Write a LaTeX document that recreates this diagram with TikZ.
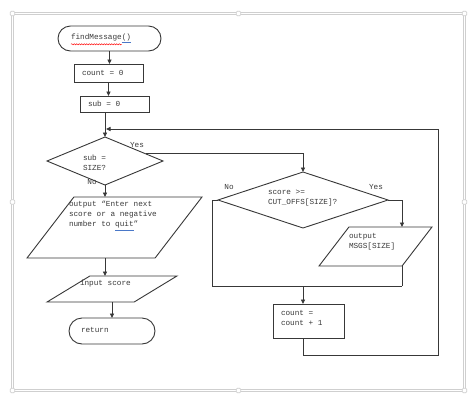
\documentclass[tikz,border=0pt]{standalone}
\usepackage{fontspec}
\setmonofont{Liberation Mono}
\usetikzlibrary{shapes.geometric,shapes.misc,arrows.meta,calc,decorations.pathmorphing}
\definecolor{ln}{HTML}{383838}
\definecolor{txt}{HTML}{3A3A3A}
\definecolor{frm}{HTML}{CFCFCF}
\definecolor{ulb}{HTML}{4A78C8}
\begin{document}
\begin{tikzpicture}[x=1pt,y=-1pt,
  every node/.style={inner sep=0pt, outer sep=0pt},
  shp/.style={draw=ln, line width=0.9pt},
  box/.style={shp, rectangle},
  term/.style={shp, rounded rectangle},
  dec/.style={shp, diamond},
  io/.style 2 args={shp, trapezium, inner sep=2pt, trapezium stretches=true, trapezium left angle=#1, trapezium right angle=#2},
  lbl/.style={font=\ttfamily\fontsize{7.7}{10}\selectfont, text=txt, align=left, anchor=west},
  con/.style={draw=ln, line width=0.9pt},
  arr/.style={con, -{Triangle[length=4.5pt,width=4.2pt]}},
  frame/.style={draw=frm, line width=0.7pt, double=white, double distance=1.6pt},
  handle/.style={draw=frm, line width=0.7pt, fill=white, rounded corners=1.2pt},
  squig/.style={draw=red, line width=0.5pt, decorate, decoration={snake, amplitude=0.6pt, segment length=2.5pt}},
]
\fill[white] (0,0) rectangle (474,405);
\useasboundingbox (0,0) rectangle (474,405);
% selection frame
\draw[frame] (12.5,13.5) rectangle (464.5,390.5);
\foreach \x/\y in {12.5/13.5,238.5/13.5,464.5/13.5,12.5/202,464.5/202,12.5/390.5,238.5/390.5,464.5/390.5}
  \draw[handle] (\x-2.3,\y-2.3) rectangle (\x+2.3,\y+2.3);

% shapes
\node[term, minimum width=103pt, minimum height=25pt] (start) at (109.5,38.5) {};
\node[box, minimum width=69pt, minimum height=18pt] (c0) at (108.5,73) {};
\node[box, minimum width=69pt, minimum height=16pt] (s0) at (114.5,104) {};
\node[dec, minimum width=116pt, minimum height=48pt] (d1) at (105,161) {};
\node[io={60}{120}, minimum width=175pt, minimum height=61pt] (p1) at (114.5,227.5) {};
\node[io={46}{134}, minimum width=130pt, minimum height=26pt] (p2) at (112,289) {};
\node[term, minimum width=86pt, minimum height=26pt] (ret) at (112,331) {};
\node[dec, minimum width=170pt, minimum height=56pt] (d2) at (303,200) {};
\node[io={60.6}{119.4}, minimum width=113pt, minimum height=39pt] (p3) at (375.5,246.5) {};
\node[box, minimum width=71pt, minimum height=34pt] (c1) at (308.5,321) {};

% texts
\node[lbl] (tstart) at (71,38.5) {findMessage\textcolor{ulb}{\underline{\textcolor{txt}{()}}}};
\draw[squig] ($(tstart.south west)+(0,1.2)$) -- ($(tstart.south east)+(-9.5,1.2)$);
\node[lbl] (tc0) at (82,73) {count = 0};
\node[lbl] (ts0) at (88,104) {sub = 0};
\node[lbl] (td1) at (83,163) {sub =\\SIZE?};
\node[lbl] (tp1) at (69,216) {output “Enter next\\score or a negative\\number to \textcolor{ulb}{\underline{\textcolor{txt}{quit}}}”};
\node[lbl] (tp2) at (80,284) {input score};
\node[lbl] (tret) at (81,330) {return};
\node[lbl] (td2) at (268,198) {score >=\\CUT\_OFFS[SIZE]?};
\node[lbl] (tp3) at (349,242) {output\\MSGS[SIZE]};
\node[lbl] (tc1) at (281,318) {count =\\count + 1};
\node[lbl, anchor=center] (yes1) at (137,145) {Yes};
\node[lbl, anchor=center] (no1) at (92,182) {No};
\node[lbl, anchor=center] (no2) at (229,187) {No};
\node[lbl, anchor=center] (yes2) at (376,187) {Yes};

% connectors
\coordinate (j3) at (402,286);
\coordinate (j2) at (303,286);
\coordinate (nl) at (212,286);
\coordinate (lb) at (438,355);
\coordinate (lt) at (438,129);
\coordinate (lj) at (106,129);
\draw[arr] (start.south) -- (start.south |- c0.north);
\draw[arr] (c0.south) -- (c0.south |- s0.north);
\draw[arr] (s0.south -| d1.north) -- (d1.north);
\draw[arr] ($(d1.north)!0.7!(d1.east)$) -| (d2.north);
\draw[arr] (d1.south) -- (d1.south |- p1.north);
\draw[arr] (p1.south -| d1.south) -- (d1.south |- p2.north);
\draw[arr] (ret.north |- p2.south) -- (ret.north);
\draw[arr] (d2.east) -| (j3 |- p3.north);
\draw[con] (j3 |- p3.south) -- (j3);
\draw[con] (d2.west) -| (nl) -- (j3);
\draw[arr] (j2) -- (j2 |- c1.north);
\draw[arr] (j2 |- c1.south) |- (lb) -- (lt) -- (lj);
\end{tikzpicture}
\end{document}
